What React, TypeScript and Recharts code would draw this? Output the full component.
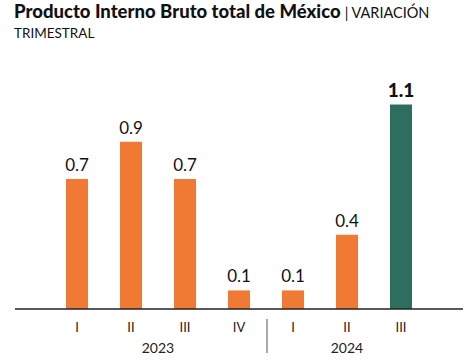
import { BarChart, Bar, XAxis, YAxis, Cell, LabelList } from "recharts";

const quarters = ["I", "II", "III", "IV", "I", "II", "III"];
const years = ["2023", "2023", "2023", "2023", "2024", "2024", "2024"];
const values = [0.7, 0.9, 0.7, 0.1, 0.1, 0.4, 1.1];

const data = quarters.map((q, i) => ({ q, year: years[i], value: values[i] }));

const ORANGE = "#F07A33";
const GREEN = "#2E6E5E";
const FONT = "Lato, 'DejaVu Sans', sans-serif";

function QuarterTick(props: any) {
    const { x, y, payload, index } = props;
    const i = index ?? payload.index;
    const band = 54;
    return (
        <g>
            <text x={x} y={y + 15} textAnchor="middle" fontSize={13} fill="#222" fontFamily={FONT}>
                {payload.value}
            </text>
            {i === 1 && (
                <text x={x + band / 2} y={y + 36} textAnchor="middle" fontSize={14} fill="#222" fontFamily={FONT}>
                    2023
                </text>
            )}
            {i === 5 && (
                <text x={x} y={y + 36} textAnchor="middle" fontSize={14} fill="#222" fontFamily={FONT}>
                    2024
                </text>
            )}
            {i === 4 && (
                <line x1={x - band / 2 + 1} x2={x - band / 2 + 1} y1={y + 2} y2={y + 36} stroke="#555" strokeWidth={1} />
            )}
        </g>
    );
}

function ValueLabel(props: any) {
    const { x, y, width, value, index } = props;
    const last = index === values.length - 1;
    return (
        <text
            x={x + width / 2}
            y={y - 8}
            textAnchor="middle"
            fontSize={last ? 19 : 17}
            fontWeight={last ? 900 : 400}
            fill="#111"
            fontFamily={FONT}
        >
            {value.toFixed(1)}
        </text>
    );
}

export default function App() {
    return (
        <div style={{ position: "absolute", left: 0, top: 0, width: 474, height: 363, background: "#fff", fontFamily: FONT }}>
            <div style={{ position: "absolute", left: 14, top: 0, fontSize: 18.5, lineHeight: "22px", color: "#111", whiteSpace: "nowrap" }}>
                <span style={{ fontWeight: 900 }}>Producto Interno Bruto total de México</span>
                <span style={{ fontWeight: 400, fontSize: 14.5, marginLeft: 4 }}>| VARIACIÓN</span>
            </div>
            <div style={{ position: "absolute", left: 14, top: 24, fontSize: 13.5, lineHeight: "18px", color: "#111", whiteSpace: "nowrap" }}>
                TRIMESTRAL
            </div>
            <BarChart
                width={474}
                height={363}
                data={data}
                margin={{ top: 86, right: 11, bottom: 0, left: 15 }}
            >
                <XAxis
                    dataKey="q"
                    axisLine={{ stroke: "#222", strokeWidth: 1.5 }}
                    tickLine={false}
                    tick={<QuarterTick />}
                    padding={{ left: 35, right: 35 }}
                    interval={0}
                    height={54}
                />
                <YAxis hide domain={[0, 1.2]} />
                <Bar dataKey="value" isAnimationActive={false} barSize={22}>
                    {data.map((d, i) => (
                        <Cell key={i} fill={i === data.length - 1 ? GREEN : ORANGE} />
                    ))}
                    <LabelList dataKey="value" content={<ValueLabel />} />
                </Bar>
            </BarChart>
        </div>
    );
}
